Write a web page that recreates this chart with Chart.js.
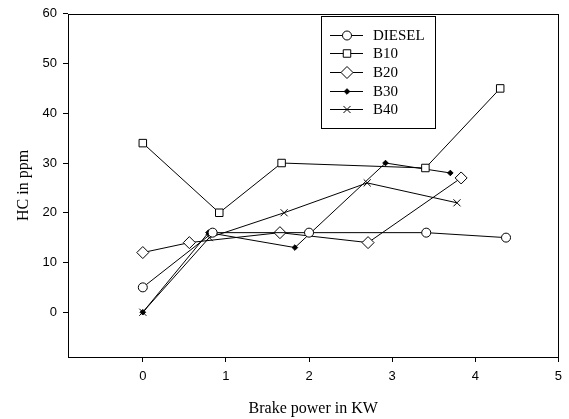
<!DOCTYPE html>
<html>
<head>
<meta charset="utf-8">
<script src="https://cdn.jsdelivr.net/npm/chart.js@4"></script>
<style>
  html, body { margin: 0; padding: 0; background: #fff; }
  #wrap { width: 569px; height: 419px; }
</style>
</head>
<body>
<div id="wrap"><canvas id="hcChart" width="569" height="419"></canvas></div>
<script>
// values
const seriesNames = ['DIESEL', 'B10', 'B20', 'B30', 'B40'];
const dieselX = [0, 0.84, 2.0, 3.41, 4.37];
const dieselY = [5, 16, 16, 16, 15];
const b10X = [0, 0.92, 1.67, 3.40, 4.30];
const b10Y = [34, 20, 30, 29, 45];
const b20X = [0, 0.56, 1.65, 2.71, 3.83];
const b20Y = [12, 14, 16, 14, 27];
const b30X = [0, 0.79, 1.83, 2.92, 3.70];
const b30Y = [0, 16, 13, 30, 28];
const b40X = [0, 0.80, 1.70, 2.70, 3.78];
const b40Y = [0, 15, 20, 26, 22];
const xTicks = [0, 1, 2, 3, 4, 5];
const yTicks = [0, 10, 20, 30, 40, 50, 60];

function pts(xs, ys) {
    return xs.map((x, i) => ({ x: x, y: ys[i] }));
}

const markers = [
    { pointStyle: 'circle', radius: 4.5, fill: '#fff' },
    { pointStyle: 'rect', radius: 5.3, fill: '#fff' },
    { pointStyle: 'rectRot', radius: 6, fill: '#fff' },
    { pointStyle: 'rectRot', radius: 2.8, fill: '#000' },
    { pointStyle: 'crossRot', radius: 5, fill: '#fff' }
];

const allData = [pts(dieselX, dieselY), pts(b10X, b10Y), pts(b20X, b20Y), pts(b30X, b30Y), pts(b40X, b40Y)];

const datasets = seriesNames.map((name, i) => ({
    label: name,
    data: allData[i],
    borderColor: '#000',
    borderWidth: 1,
    tension: 0,
    pointStyle: markers[i].pointStyle,
    pointRadius: markers[i].radius,
    pointBackgroundColor: markers[i].fill,
    pointBorderColor: '#000',
    pointBorderWidth: 1
}));

// frame around plot + boxed legend with line-and-marker keys
const framePlugin = {
    id: 'frameLegend',
    afterDraw(chart) {
        const ctx = chart.ctx;
        const a = chart.chartArea;
        ctx.save();
        ctx.strokeStyle = '#000';
        ctx.lineWidth = 1;
        ctx.strokeRect(Math.round(a.left) + 0.5, Math.round(a.top) + 0.5,
            Math.round(a.right - a.left), Math.round(a.bottom - a.top));

        // legend box
        ctx.fillStyle = '#fff';
        ctx.fillRect(321, 16, 114, 112);
        ctx.strokeRect(321.5, 16.5, 114, 112);
        ctx.font = '15px "Liberation Serif", "Times New Roman", serif';
        ctx.textBaseline = 'middle';
        ctx.textAlign = 'left';
        seriesNames.forEach((name, i) => {
            const y = Math.round(34.5 + i * 18.7) + 0.5;
            ctx.beginPath();
            ctx.moveTo(330, y);
            ctx.lineTo(363, y);
            ctx.strokeStyle = '#000';
            ctx.stroke();
            ctx.fillStyle = markers[i].fill;
            ctx.strokeStyle = '#000';
            Chart.helpers.drawPoint(ctx, {
                pointStyle: markers[i].pointStyle,
                radius: markers[i].radius,
                borderWidth: 1,
                rotation: 0
            }, 347, y);
            ctx.fillStyle = '#000';
            ctx.fillText(name, 373, y + 1);
        });
        ctx.restore();
    }
};

const tickFont = { family: '"Liberation Sans", Arial, sans-serif', size: 13 };
const titleFont = { family: '"Liberation Serif", "Times New Roman", serif', size: 16 };

new Chart(document.getElementById('hcChart').getContext('2d'), {
    type: 'line',
    data: { datasets: datasets },
    options: {
        responsive: false,
        animation: false,
        layout: { padding: { top: 12, right: 6, left: 0, bottom: 0 } },
        plugins: { legend: { display: false }, tooltip: { enabled: false } },
        scales: {
            x: {
                type: 'linear',
                min: -0.9,
                max: 5,
                afterBuildTicks: s => { s.ticks = xTicks.map(v => ({ value: v })); },
                afterFit: s => { s.height = 62; },
                border: { display: false },
                grid: { drawOnChartArea: false, drawTicks: true, tickLength: 5, color: '#000' },
                ticks: { color: '#000', font: tickFont, padding: 7, maxRotation: 0 },
                title: { display: true, text: 'Brake power in KW', color: '#000', font: titleFont, padding: { top: 0, bottom: 1 } }
            },
            y: {
                type: 'linear',
                min: -9,
                max: 60,
                afterBuildTicks: s => { s.ticks = yTicks.map(v => ({ value: v })); },
                afterFit: s => { s.width = 68; },
                border: { display: false },
                grid: { drawOnChartArea: false, drawTicks: true, tickLength: 5, color: '#000' },
                ticks: { color: '#000', font: tickFont, padding: 6 },
                title: { display: true, text: 'HC in ppm', color: '#000', font: titleFont, padding: { top: 14, bottom: 0 } }
            }
        }
    },
    plugins: [framePlugin]
});
</script>
</body>
</html>
